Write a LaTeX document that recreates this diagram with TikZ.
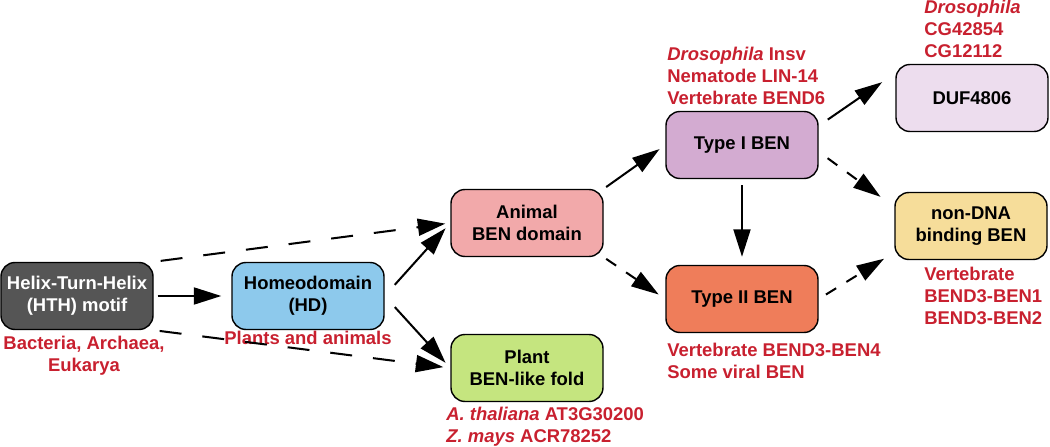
\documentclass[tikz,border=0pt]{standalone}
\usepackage{fontspec}
\setmainfont{Liberation Sans}
\usetikzlibrary{arrows.meta}
\definecolor{hthgray}{HTML}{555555}
\definecolor{hdblue}{HTML}{8DC9EC}
\definecolor{animalpink}{HTML}{F2A9AA}
\definecolor{plantgreen}{HTML}{C5E57F}
\definecolor{typeonepurple}{HTML}{D3ABD1}
\definecolor{typetwoorange}{HTML}{EF7D5A}
\definecolor{duflilac}{HTML}{EDDDEE}
\definecolor{nondnayellow}{HTML}{F6DD9A}
\definecolor{notered}{HTML}{C8202F}
\begin{document}
\begin{tikzpicture}
  [x=0.2mm,y=-0.2mm,every node/.style={font=\bfseries\fontsize{10.5}{12.4}\selectfont,align=center}]
  \tikzstyle{box} = [draw=black,line width=0.8pt,rounded corners=2.8mm,minimum width=30.4mm,minimum height=13.4mm,inner sep=1pt]
  \tikzstyle{note} = [text=notered,inner sep=0pt]
  \tikzstyle{solidarrow} = [line width=1.15pt,-{Triangle[length=5.5mm,width=3.4mm]}]
  \tikzstyle{longdash} = [solidarrow,dash pattern=on 4.4mm off 4.2mm]
  \tikzstyle{shortdash} = [solidarrow,dash pattern=on 2.4mm off 2.4mm]
  \useasboundingbox (0,0) rectangle (1050,447);

  \node[box,fill=hthgray,text=white] (hth) at (77,296) {Helix-Turn-Helix\\(HTH) motif};
  \node[box,fill=hdblue] (hd) at (308,296) {Homeodomain\\(HD)};
  \node[box,fill=animalpink] (animal) at (527,223) {Animal\\BEN domain};
  \node[box,fill=plantgreen] (plant) at (527,368) {Plant\\BEN-like fold};
  \node[box,fill=typeonepurple] (typeI) at (742,145) {Type I BEN};
  \node[box,fill=typetwoorange] (typeII) at (742,299) {Type II BEN};
  \node[box,fill=duflilac] (duf) at (972,98) {DUF4806};
  \node[box,fill=nondnayellow] (nondna) at (971,226) {non-DNA\\binding BEN};

  \node[note,anchor=north] (hthnote) at (84,336) {Bacteria, Archaea,\\Eukarya};
  \node[note,anchor=north] (hdnote) at (308,331) {Plants and animals};
  \node[note,anchor=north west,align=left] (plantnote) at (446,407) {\textit{A. thaliana} AT3G30200\\\textit{Z. mays} ACR78252};
  \node[note,anchor=north west,align=left] (typeIInote) at (667,343) {Vertebrate BEND3-BEN4\\Some viral BEN};
  \node[note,anchor=north west,align=left] (typeInote) at (667,47) {\textit{Drosophila} Insv\\Nematode LIN-14\\Vertebrate BEND6};
  \node[note,anchor=north west,align=left] (dufnote) at (924,0) {\textit{Drosophila}\\CG42854\\CG12112};
  \node[note,anchor=north west,align=left] (nondnanote) at (924,267) {Vertebrate\\BEND3-BEN1\\BEND3-BEN2};

\foreach \source/\dest/\s/\e in {hth/hd/0.8/2,hd.east/animal.west/3/1.4,hd.east/plant.west/3/1.4,
    animal.north east/typeI.west/0.6/1.4,typeI/typeII/1.2/1.6,typeI.14/duf.162/2.2/3.2}
   \draw[solidarrow,shorten <=\s mm,shorten >=\e mm] (\source) -- (\dest);
\foreach \source/\dest/\s/\e in {hth.north east/animal.west/1.4/1,hth.south east/plant.west/1.2/1.4}
   \draw[longdash,shorten <=\s mm,shorten >=\e mm] (\source) -- (\dest);
\foreach \source/\dest/\s/\e in {animal.south east/typeII.west/0.6/1.6,typeI.-5/nondna.166/2.2/3.4,typeII.east/nondna.199/1.7/2.4}
   \draw[shortdash,shorten <=\s mm,shorten >=\e mm] (\source) -- (\dest);

\end{tikzpicture}
\end{document}
